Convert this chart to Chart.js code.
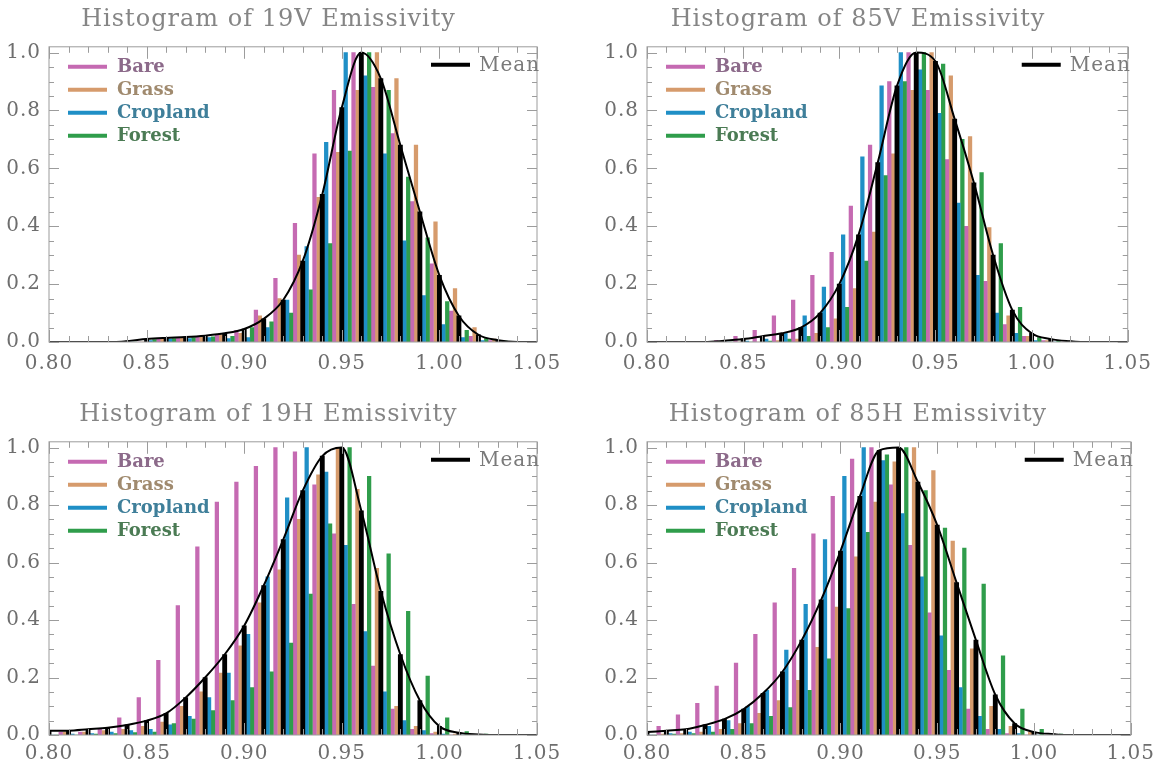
<!DOCTYPE html>
<html>
<head>
<meta charset="utf-8">
<script src="https://cdn.jsdelivr.net/npm/chart.js@4.4.1/dist/chart.umd.min.js"></script>
<style>
  body { margin: 0; background: #fff; }
  .panel { position: absolute; width: 580px; }
</style>
</head>
<body>
<div class="panel" style="left:0;top:0;height:385px"><canvas id="c19V"></canvas></div>
<div class="panel" style="left:580px;top:0;height:385px"><canvas id="c85V"></canvas></div>
<div class="panel" style="left:0;top:393px;height:374px"><canvas id="c19H"></canvas></div>
<div class="panel" style="left:580px;top:393px;height:374px"><canvas id="c85H"></canvas></div>
<script>
// bin centres (emissivity)
const bins = [0.80, 0.81, 0.82, 0.83, 0.84, 0.85, 0.86, 0.87, 0.88, 0.89, 0.90, 0.91, 0.92,
              0.93, 0.94, 0.95, 0.96, 0.97, 0.98, 0.99, 1.00, 1.01, 1.02, 1.03, 1.04, 1.05];
const xTicks = [0.80, 0.85, 0.90, 0.95, 1.00, 1.05];
const yTicks = [0.0, 0.2, 0.4, 0.6, 0.8, 1.0];

// 19V
const mean19V     = [0, 0, 0, 0, 0.003, 0.01, 0.014, 0.017, 0.022, 0.03, 0.045, 0.08, 0.145, 0.28, 0.51, 0.81, 1.0, 0.91, 0.68, 0.45, 0.23, 0.09, 0.025, 0.006, 0, 0];
const bare19V     = [0, 0, 0, 0, 0, 0.01, 0.015, 0.02, 0.025, 0.04, 0.11, 0.22, 0.41, 0.65, 0.87, 1.0, 0.88, 0.72, 0.485, 0.27, 0.107, 0.02, 0.005, 0, 0, 0];
const grass19V    = [0, 0, 0, 0, 0, 0.01, 0.015, 0.02, 0.025, 0.03, 0.09, 0.15, 0.30, 0.50, 0.655, 0.87, 1.0, 0.91, 0.68, 0.415, 0.185, 0.05, 0.01, 0.002, 0, 0];
const cropland19V = [0, 0, 0, 0, 0, 0.005, 0.01, 0.012, 0.015, 0.012, 0.015, 0.05, 0.145, 0.33, 0.69, 1.0, 0.92, 0.65, 0.35, 0.16, 0.06, 0.015, 0.005, 0, 0, 0];
const forest19V   = [0, 0, 0, 0, 0, 0.008, 0.012, 0.015, 0.018, 0.02, 0.05, 0.07, 0.10, 0.18, 0.34, 0.66, 1.0, 0.87, 0.57, 0.36, 0.14, 0.04, 0.012, 0.003, 0, 0];

// 85V
const mean85V     = [0, 0, 0, 0, 0.004, 0.01, 0.02, 0.03, 0.05, 0.10, 0.20, 0.37, 0.62, 0.885, 1.0, 0.97, 0.77, 0.55, 0.30, 0.11, 0.03, 0.01, 0.003, 0, 0, 0];
const bare85V     = [0, 0, 0, 0.005, 0.02, 0.04, 0.09, 0.145, 0.23, 0.31, 0.47, 0.68, 0.90, 1.0, 0.87, 0.63, 0.40, 0.21, 0.06, 0.02, 0.005, 0, 0, 0, 0, 0];
const grass85V    = [0, 0, 0, 0, 0, 0, 0.005, 0.01, 0.03, 0.08, 0.185, 0.38, 0.65, 0.87, 1.0, 0.92, 0.71, 0.395, 0.09, 0.02, 0.005, 0, 0, 0, 0, 0];
const cropland85V = [0, 0, 0, 0, 0, 0.003, 0.01, 0.03, 0.09, 0.19, 0.37, 0.64, 0.885, 1.0, 0.94, 0.79, 0.48, 0.23, 0.10, 0.03, 0.005, 0, 0, 0, 0, 0];
const forest85V   = [0, 0, 0, 0, 0, 0, 0.003, 0.01, 0.02, 0.05, 0.12, 0.28, 0.575, 0.90, 1.0, 0.96, 0.70, 0.585, 0.34, 0.12, 0.015, 0.005, 0, 0, 0, 0];

// 19H
const mean19H     = [0.015, 0.015, 0.02, 0.025, 0.035, 0.05, 0.075, 0.13, 0.20, 0.28, 0.38, 0.52, 0.68, 0.85, 0.97, 1.0, 0.78, 0.50, 0.28, 0.12, 0.03, 0.008, 0.002, 0, 0, 0];
const bare19H     = [0.01, 0.01, 0.02, 0.06, 0.13, 0.26, 0.45, 0.655, 0.81, 0.88, 0.935, 1.0, 0.985, 0.87, 0.70, 0.455, 0.24, 0.09, 0.02, 0.005, 0, 0, 0, 0, 0, 0];
const grass19H    = [0.01, 0.01, 0.015, 0.02, 0.03, 0.045, 0.10, 0.15, 0.215, 0.31, 0.46, 0.575, 0.75, 0.905, 1.0, 0.855, 0.58, 0.10, 0.03, 0.01, 0.003, 0, 0, 0, 0, 0];
const cropland19H = [0, 0.003, 0.005, 0.01, 0.015, 0.02, 0.035, 0.065, 0.13, 0.215, 0.35, 0.55, 0.825, 1.0, 0.915, 0.66, 0.36, 0.15, 0.05, 0.015, 0.003, 0, 0, 0, 0, 0];
const forest19H   = [0, 0, 0.003, 0.005, 0.008, 0.01, 0.04, 0.055, 0.085, 0.12, 0.165, 0.22, 0.32, 0.49, 0.735, 1.0, 0.90, 0.63, 0.43, 0.205, 0.06, 0.012, 0.003, 0, 0, 0];

// 85H
const mean85H     = [0.01, 0.015, 0.02, 0.035, 0.055, 0.09, 0.145, 0.22, 0.33, 0.47, 0.64, 0.83, 0.99, 1.0, 0.88, 0.73, 0.53, 0.33, 0.14, 0.04, 0.01, 0.003, 0, 0, 0, 0];
const bare85H     = [0.03, 0.07, 0.11, 0.17, 0.25, 0.35, 0.46, 0.58, 0.70, 0.83, 0.96, 1.0, 0.87, 0.66, 0.425, 0.225, 0.09, 0.02, 0.005, 0, 0, 0, 0, 0, 0, 0];
const grass85H    = [0.003, 0.005, 0.01, 0.02, 0.04, 0.075, 0.12, 0.19, 0.305, 0.445, 0.62, 0.81, 0.95, 1.0, 0.92, 0.675, 0.30, 0.10, 0.03, 0.01, 0, 0, 0, 0, 0, 0];
const cropland85H = [0, 0.005, 0.01, 0.03, 0.05, 0.10, 0.155, 0.295, 0.455, 0.68, 0.90, 1.0, 0.955, 0.77, 0.55, 0.345, 0.165, 0.065, 0.02, 0.005, 0, 0, 0, 0, 0, 0];
const forest85H   = [0, 0.003, 0.005, 0.01, 0.02, 0.04, 0.065, 0.095, 0.155, 0.265, 0.44, 0.705, 0.975, 1.0, 0.85, 0.72, 0.65, 0.525, 0.275, 0.09, 0.02, 0.003, 0, 0, 0, 0];

const colors = { Bare: '#c56ab2', Grass: '#d69b6c', Cropland: '#1f8fc6', Forest: '#2f9d4b' };
const textColors = { Bare: '#8c6a8a', Grass: '#a08a6e', Cropland: '#3f7f9a', Forest: '#4b7b54' };
const serif = "'DejaVu Serif', serif";

// frame with inward ticks on all four sides, plus the legend
const framePlugin = {
  id: 'frame',
  beforeDraw(chart) {
    chart.ctx.letterSpacing = '1px';
  },
  afterDraw(chart) {
    const { ctx, chartArea: a, scales: { x, y } } = chart;
    ctx.save();
    ctx.strokeStyle = '#9c9c9c';
    ctx.lineWidth = 1;
    ctx.strokeRect(a.left, a.top, a.right - a.left, a.bottom - a.top);
    ctx.beginPath();
    for (let i = 0; i <= 25; i++) {
      const px = Math.round(x.getPixelForValue(0.80 + i * 0.01)) + 0.5;
      const len = i % 5 === 0 ? 12 : 6;
      ctx.moveTo(px, a.bottom); ctx.lineTo(px, a.bottom - len);
      ctx.moveTo(px, a.top); ctx.lineTo(px, a.top + len);
    }
    for (let i = 0; i <= 20; i++) {
      const py = Math.round(y.getPixelForValue(i * 0.05)) + 0.5;
      const len = i % 4 === 0 ? 10 : 5;
      ctx.moveTo(a.left, py); ctx.lineTo(a.left + len, py);
      ctx.moveTo(a.right, py); ctx.lineTo(a.right - len, py);
    }
    ctx.stroke();

    ctx.textBaseline = 'middle';
    ctx.letterSpacing = '0px';
    ['Bare', 'Grass', 'Cropland', 'Forest'].forEach((name, i) => {
      const ly = a.top + 20 + i * 23;
      ctx.strokeStyle = colors[name];
      ctx.lineWidth = 4;
      ctx.beginPath();
      ctx.moveTo(a.left + 19, ly); ctx.lineTo(a.left + 58, ly);
      ctx.stroke();
      ctx.fillStyle = textColors[name];
      ctx.font = "bold 18px " + serif;
      ctx.fillText(name, a.left + 68, ly + 1);
    });
    const my = a.top + 18;
    ctx.strokeStyle = '#000';
    ctx.lineWidth = 4;
    ctx.beginPath();
    ctx.moveTo(a.right - 106, my); ctx.lineTo(a.right - 67, my);
    ctx.stroke();
    ctx.fillStyle = '#7a7a7a';
    ctx.font = "20px " + serif;
    ctx.letterSpacing = '1px';
    ctx.fillText('Mean', a.right - 58, my + 1);
    ctx.restore();
  }
};

function makePanel(id, title, mean, bare, grass, cropland, forest, lay) {
  const series = [
    { name: 'Cropland', vals: cropland, off: 0.002 },
    { name: 'Forest', vals: forest, off: 0.004 },
    { name: 'Bare', vals: bare, off: 0.006 },
    { name: 'Grass', vals: grass, off: 0.008 }
  ];
  const datasets = [
    {
      type: 'line', label: 'Mean', order: 0,
      data: bins.map((b, i) => ({ x: b, y: mean[i] })),
      borderColor: '#000', borderWidth: 2, pointRadius: 0,
      cubicInterpolationMode: 'monotone'
    },
    {
      type: 'bar', label: 'Mean bars', order: 1, grouped: false,
      data: bins.map((b, i) => ({ x: b, y: mean[i] })),
      backgroundColor: '#000', barThickness: 4.2
    }
  ];
  series.forEach(s => {
    datasets.push({
      type: 'bar', label: s.name, order: 1, grouped: false,
      data: bins.map((b, i) => ({ x: b + s.off, y: s.vals[i] })),
      backgroundColor: colors[s.name], barThickness: 3.6
    });
  });

  new Chart(document.getElementById(id), {
    type: 'bar',
    data: { datasets },
    options: {
      responsive: true,
      maintainAspectRatio: false,
      animation: false,
      layout: { padding: { left: 0, right: lay.right, top: 0, bottom: 0 } },
      plugins: {
        legend: { display: false },
        tooltip: { enabled: false },
        title: {
          display: true, text: title, color: '#858585',
          font: { family: serif, size: 24, weight: 'normal' },
          padding: { top: lay.titleTop, bottom: 13 }
        }
      },
      scales: {
        x: {
          type: 'linear', min: 0.80, max: 1.05, offset: false,
          grid: { display: false, drawTicks: false, offset: false },
          border: { display: false },
          afterFit: s => { s.height = lay.xh; },
          afterBuildTicks: s => { s.ticks = xTicks.map(v => ({ value: v })); },
          ticks: {
            color: '#6e6e6e', padding: lay.xpad, maxRotation: 0,
            font: { family: serif, size: 20 },
            callback: v => Number(v).toFixed(2)
          }
        },
        y: {
          min: 0, max: 1.02,
          grid: { display: false, drawTicks: false },
          border: { display: false },
          afterFit: s => { s.width = lay.yw; },
          afterBuildTicks: s => { s.ticks = yTicks.map(v => ({ value: v })); },
          ticks: {
            color: '#6e6e6e', padding: 8,
            font: { family: serif, size: 20 },
            callback: v => Number(v).toFixed(1)
          }
        }
      }
    },
    plugins: [framePlugin]
  });
}

makePanel('c19V', 'Histogram of 19V Emissivity', mean19V, bare19V, grass19V, cropland19V, forest19V,
  { yw: 49, right: 43, titleTop: 5, xh: 43, xpad: 10 });
makePanel('c85V', 'Histogram of 85V Emissivity', mean85V, bare85V, grass85V, cropland85V, forest85V,
  { yw: 67, right: 24, titleTop: 5, xh: 43, xpad: 10 });
makePanel('c19H', 'Histogram of 19H Emissivity', mean19H, bare19H, grass19H, cropland19H, forest19H,
  { yw: 49, right: 43, titleTop: 7, xh: 32, xpad: 7 });
makePanel('c85H', 'Histogram of 85H Emissivity', mean85H, bare85H, grass85H, cropland85H, forest85H,
  { yw: 67, right: 24, titleTop: 7, xh: 32, xpad: 7 });
</script>
</body>
</html>
